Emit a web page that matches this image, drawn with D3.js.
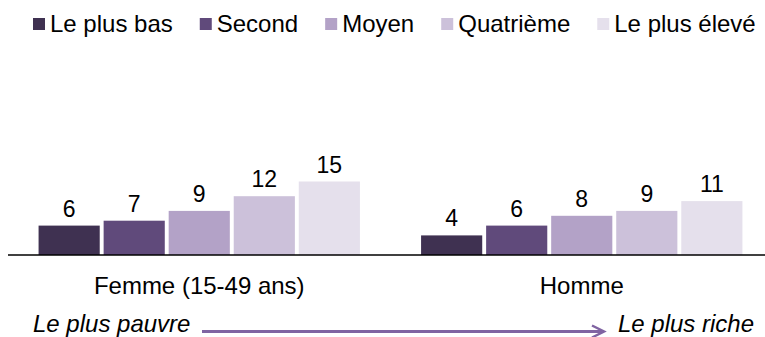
<!DOCTYPE html>
<html>
<head>
<meta charset="utf-8">
<script src="https://cdn.jsdelivr.net/npm/d3@7"></script>
<style>
  html, body { margin: 0; padding: 0; background: #fff; }
  svg { display: block; font-family: "Liberation Sans", Arial, sans-serif; }
</style>
</head>
<body>
<svg id="chart" width="765" height="337"></svg>
<script>
// Groups shown on the x axis
const categories = ["Femme (15-49 ans)", "Homme"];
// Wealth quintiles (legend order)
const quintiles = ["Le plus bas", "Second", "Moyen", "Quatrième", "Le plus élevé"];
// Percentages per quintile for each group
const femmeValues = [6, 7, 9, 12, 15];
const hommeValues = [4, 6, 8, 9, 11];
const colors = ["#3f3151", "#604a7b", "#b3a2c7", "#ccc1da", "#e5e0ec"];

const seriesByCategory = [femmeValues, hommeValues];

const svg = d3.select("#chart");
const baseY = 255;

const x0 = d3.scaleBand().domain(categories).range([8, 773]).padding(0);
const x1 = d3.scaleBand().domain(quintiles).range([0, x0.bandwidth()])
  .paddingInner(0.06).paddingOuter(0.47);
const y = d3.scaleLinear().domain([0, 15]).range([baseY, baseY - 73.5]);
const color = d3.scaleOrdinal().domain(quintiles).range(colors);

// Legend
const legend = svg.append("g").attr("class", "legend");
let lx = 33;
quintiles.forEach((q) => {
  const g = legend.append("g").attr("transform", `translate(${lx},0)`);
  g.append("rect").attr("x", 0).attr("y", 18).attr("width", 12).attr("height", 12)
    .attr("fill", color(q));
  const t = g.append("text").attr("x", 17).attr("y", 32)
    .attr("font-size", 24).attr("fill", "#000").text(q);
  lx += 17 + t.node().getComputedTextLength() + 27;
});

// Bars and value labels
const groups = svg.selectAll("g.group")
  .data(categories.map((c, i) => ({ cat: c, values: seriesByCategory[i] })))
  .join("g")
  .attr("class", "group")
  .attr("transform", d => `translate(${x0(d.cat)},0)`);

groups.selectAll("rect")
  .data(d => d.values.map((v, i) => ({ q: quintiles[i], v })))
  .join("rect")
  .attr("x", d => x1(d.q))
  .attr("y", d => y(d.v))
  .attr("width", x1.bandwidth())
  .attr("height", d => baseY - y(d.v))
  .attr("fill", d => color(d.q));

groups.selectAll("text.val")
  .data(d => d.values.map((v, i) => ({ q: quintiles[i], v })))
  .join("text")
  .attr("class", "val")
  .attr("x", d => x1(d.q) + x1.bandwidth() / 2)
  .attr("y", d => y(d.v) - 9)
  .attr("text-anchor", "middle")
  .attr("font-size", 23)
  .attr("fill", "#000")
  .text(d => d.v);

// Baseline axis
const axis = d3.axisBottom(x0).tickSize(0).tickPadding(0);
const axisG = svg.append("g").attr("transform", `translate(0,${baseY})`).call(axis);
axisG.select(".domain").remove();
axisG.selectAll("text")
  .attr("dy", null)
  .attr("y", 39)
  .attr("font-size", 24).attr("fill", "#000")
  .style("font-family", "Liberation Sans, Arial, sans-serif");
svg.append("line").attr("x1", 8).attr("x2", 765).attr("y1", baseY).attr("y2", baseY)
  .attr("stroke", "#000").attr("stroke-width", 1.5);

// Poorest → richest arrow
const arrowY = 331.5;
svg.append("text").attr("x", 33).attr("y", 332).attr("font-size", 24)
  .attr("font-style", "italic").attr("fill", "#000").text("Le plus pauvre");
svg.append("text").attr("x", 754).attr("y", 332).attr("font-size", 24)
  .attr("text-anchor", "end")
  .attr("font-style", "italic").attr("fill", "#000").text("Le plus riche");
svg.append("line").attr("x1", 202).attr("x2", 603).attr("y1", arrowY).attr("y2", arrowY)
  .attr("stroke", "#8064a2").attr("stroke-width", 3);
svg.append("path")
  .attr("d", `M${592},${arrowY - 6} L${604},${arrowY} L${592},${arrowY + 6}`)
  .attr("fill", "none").attr("stroke", "#8064a2").attr("stroke-width", 2.5);
</script>
</body>
</html>
